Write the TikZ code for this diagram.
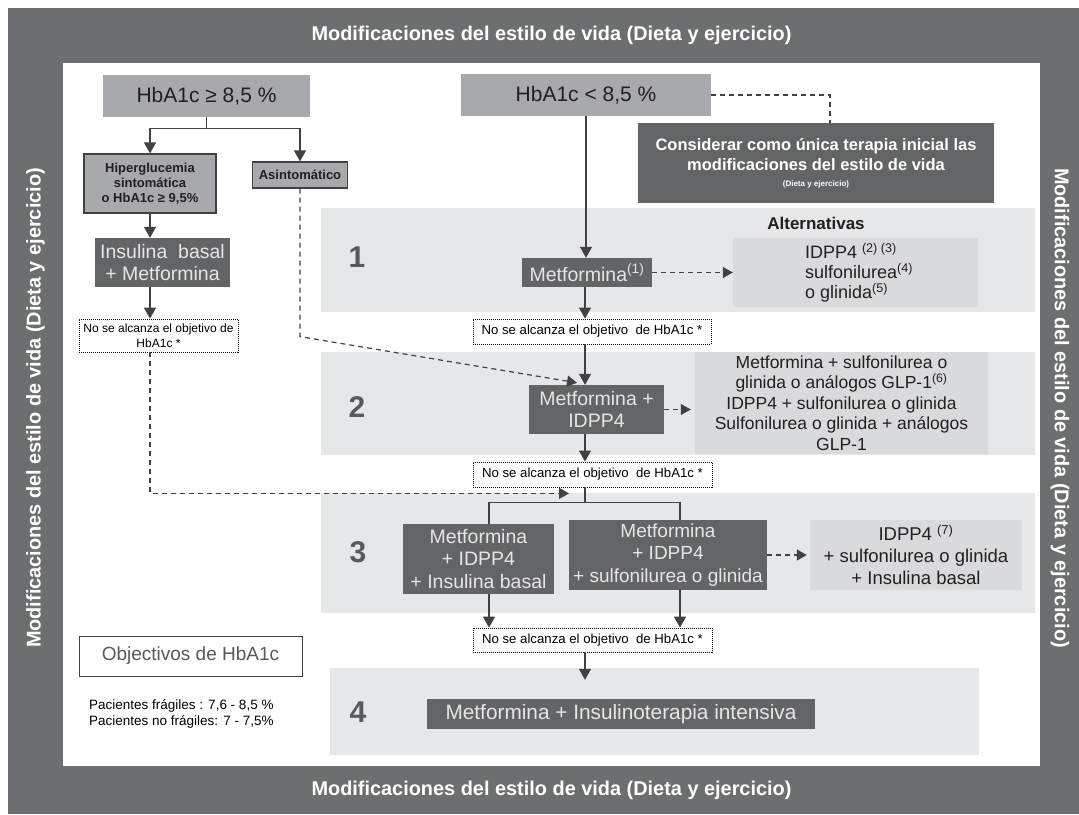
\documentclass[tikz,border=0pt]{standalone}
\usepackage{fontspec}
\setmainfont{Liberation Sans}
\usetikzlibrary{arrows.meta,calc}
\definecolor{framec}{HTML}{6D6E71}
\definecolor{dbox}{HTML}{636466}
\definecolor{mbox}{HTML}{A7A9AC}
\definecolor{bandc}{HTML}{E6E7E8}
\definecolor{abox}{HTML}{D9DADC}
\definecolor{ink}{HTML}{414042}
\definecolor{ltext}{HTML}{E6E6E6}
\definecolor{txt}{HTML}{231F20}
\definecolor{numc}{HTML}{58595B}
\newcommand{\myfs}[2]{\fontsize{#1}{#2}\selectfont}
\begin{document}
\begin{tikzpicture}[x=1pt,y=-1pt,
  ln/.style={draw=ink, line width=1.2pt},
  arr/.style={ln, -{Triangle[length=11pt,width=12pt]}},
  darr/.style={ln, dash pattern=on 5pt off 4pt, -{Triangle[length=10pt,width=11pt]}},
  dln/.style={ln, dash pattern=on 5pt off 4pt},
  dk/.style={fill=dbox, text=ltext, inner sep=0pt, align=center, font=\myfs{19.5}{22.5}},
  mg/.style={fill=mbox, text=txt, inner sep=0pt, align=center},
  alt/.style={fill=abox, text=txt, inner sep=0pt, font=\myfs{18}{20.5}},
  dotbox/.style={draw=black, line width=0.8pt, dash pattern=on 1pt off 1pt, fill=white, text=black, inner sep=0pt, align=center, font=\myfs{13.2}{15}},
  num/.style={text=numc, font=\myfs{30}{30}\bfseries},
  ttl/.style={text=white, font=\myfs{19.9}{22}\bfseries},
]
\useasboundingbox (0,0) rectangle (1079,814);
% frame
\fill[framec] (8,8) rectangle (1079,814);
\fill[white] (63,63) rectangle (1040,766);
\node[ttl] (ttop) at (551.5,35.5) {Modificaciones del estilo de vida (Dieta y ejercicio)};
\node[ttl] (tbot) at (551.5,790) {Modificaciones del estilo de vida (Dieta y ejercicio)};
\node[ttl, rotate=90] (tleft) at (35.5,408) {Modificaciones del estilo de vida (Dieta y ejercicio)};
\node[ttl, rotate=-90] (tright) at (1060,408) {Modificaciones del estilo de vida (Dieta y ejercicio)};
% bands
\fill[bandc] (321,208) rectangle (1035,312);
\fill[bandc] (321,352) rectangle (1035,455);
\fill[bandc] (321,493) rectangle (1035,613);
\fill[bandc] (330,668) rectangle (979,755);
\node[num] (n1) at (357,257) {1};
\node[num] (n2) at (357,407) {2};
\node[num] (n3) at (358,552) {3};
\node[num] (n4) at (358,712) {4};
\node[text=txt, font=\myfs{17}{20}\bfseries] (altl) at (816,223) {Alternativas};
% left column
\node[mg, minimum width=207pt, minimum height=42pt, font=\myfs{21}{24}] (hbh) at (206.5,96) {HbA1c ≥ 8,5 \%};
\node[mg, draw=ink, line width=1.2pt, minimum width=132pt, minimum height=59pt, font=\myfs{13}{15}\bfseries] (hip) at (150,183.5) {Hiperglucemia\\sintomática\\o HbA1c ≥ 9,5\%};
\node[mg, draw=ink, line width=1.2pt, minimum width=95pt, minimum height=26pt, font=\myfs{13}{15}\bfseries] (asi) at (300,175) {Asintomático};
\node[dk, minimum width=135pt, minimum height=49pt] (ins) at (162.5,262.5) {Insulina~ basal\\+ Metformina};
\node[dotbox, minimum width=159pt, minimum height=33pt, font=\myfs{12}{14.5}] (nl1) at (158.5,335.5) {No se alcanza el objetivo de\\HbA1c *};
% right column
\node[mg, minimum width=250pt, minimum height=42pt, font=\myfs{21}{24}] (hbl) at (586,95) {HbA1c < 8,5 \%};
\node[fill=dbox, text=white, inner sep=0pt, align=center, minimum width=356pt, minimum height=80pt, font=\myfs{16.5}{20}\bfseries] (cons) at (816,163) {Considerar como única terapia inicial las\\modificaciones del estilo de vida\\[-4pt]{\myfs{8}{10}\bfseries(Dieta y ejercicio)}};
\node[dk, minimum width=130pt, minimum height=29pt] (m1) at (587,272.5) {Metformina\textsuperscript{(1)}};
\node[alt, minimum width=245pt, minimum height=69pt] (a1) at (855.5,272.5) {};
\node[anchor=west, text=txt, inner sep=0pt, align=left, font=\myfs{18}{20}] (a1t) at ($(a1.west)+(72,0)$) {IDPP4 \textsuperscript{(2) (3)}\\sulfonilurea\textsuperscript{(4)}\\o glinida\textsuperscript{(5)}};
\node[dotbox, minimum width=238pt, minimum height=25pt] (d2) at (592,331.5) {No se alcanza el objetivo~ de HbA1c *};
\node[dk, minimum width=135pt, minimum height=49pt] (m2) at (596.5,409.5) {Metformina +\\IDPP4};
\node[alt, minimum width=293pt, minimum height=102pt, align=center, font=\myfs{17.5}{20.4}] (a2) at (841.5,403) {Metformina + sulfonilurea o\\glinida o análogos GLP-1\textsuperscript{(6)}\\IDPP4 + sulfonilurea o glinida\\Sulfonilurea o glinida + análogos\\GLP-1};
\node[dotbox, minimum width=239pt, minimum height=25pt] (d3) at (592.5,474.5) {No se alcanza el objetivo~ de HbA1c *};
\node[dk, minimum width=151pt, minimum height=70pt] (b3l) at (478.5,559) {Metformina\\+ IDPP4\\+ Insulina basal};
\node[dk, minimum width=198pt, minimum height=70pt, font=\myfs{19}{22.5}] (b3r) at (668,555) {Metformina\\+ IDPP4\\+ sulfonilurea o glinida};
\node[alt, minimum width=212pt, minimum height=70pt, align=center, font=\myfs{18.5}{22}] (a3) at (916,555) {IDPP4 \textsuperscript{(7)}\\+ sulfonilurea o glinida\\+ Insulina basal};
\node[dotbox, minimum width=239pt, minimum height=24pt] (d4) at (592.5,640) {No se alcanza el objetivo~ de HbA1c *};
\node[dk, minimum width=388pt, minimum height=30pt, font=\myfs{20.8}{23}] (m4) at (621,714) {Metformina + Insulinoterapia intensiva};
% objectives
\node[draw=ink, line width=1pt, text=numc, inner sep=0pt, minimum width=223pt, minimum height=40pt, font=\myfs{19}{22}] (obj) at (190.5,656) {Objectivos de HbA1c};
\node[anchor=west, text=black, inner sep=0pt, align=left, font=\myfs{13.5}{16}] (pac) at (89,714) {Pacientes frágiles : 7,6 - 8,5 \%\\Pacientes no frágiles: 7 - 7,5\%};
% helper coordinates
\coordinate (sp) at (585,0);
\coordinate (xl) at (489,0);
\coordinate (xr) at (680,0);
% connectors left
\draw[arr] (hbh.south) -- ++(0,11) -| (hip.north);
\draw[arr] (hbh.south) -- ++(0,11) -| (asi.north);
\draw[arr] (hip.south) -- (ins.north -| hip.south);
\draw[arr] (ins.south -| hip.south) -- (nl1.north -| hip.south);
\draw[darr] (nl1.south -| hip.south) |- ($(d3.south -| sp)+(-16,6)$);
\draw[darr] (asi.south) -- ++(0,148) -- ($(m2.north -| sp)+(-8,-2)$);
% connectors right
\draw[dln] (hbl.east) -| ($(cons.north)+(14,0)$);
\draw[arr] (hbl.south) -- (m1.north -| hbl.south);
\draw[darr] (m1.east) -- (a1.west);
\draw[arr] (m1.south -| sp) -- (d2.north -| sp);
\draw[arr] (d2.south -| sp) -- (m2.north -| sp);
\draw[darr, shorten >=4pt] (m2.east) -- (m2.east -| a2.west);
\draw[arr] (m2.south -| sp) -- (d3.north -| sp);
\draw[ln] (d3.south -| sp) -- ++(0,15) coordinate (spl);
\draw[ln] (spl) -| (b3l.north -| xl);
\draw[ln] (spl) -| (b3r.north -| xr);
\draw[arr] (b3l.south -| xl) -- (d4.north -| xl);
\draw[arr] (b3r.south -| xr) -- (d4.north -| xr);
\draw[darr, shorten >=3pt] (b3r.east) -- (a3.west);
\draw[arr, shorten >=19pt] (d4.south -| sp) -- (m4.north -| sp);
\end{tikzpicture}
\end{document}
